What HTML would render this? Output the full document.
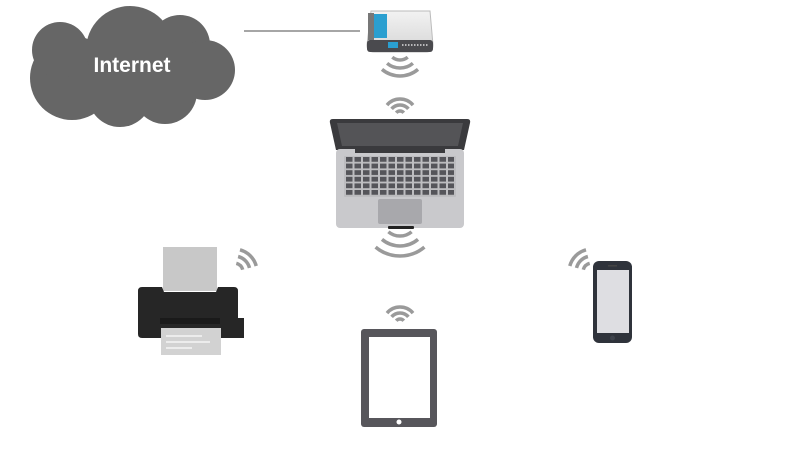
<!DOCTYPE html>
<html><head><meta charset="utf-8"><style>html,body{margin:0;padding:0;background:#fff;}svg{display:block}</style></head>
<body>
<svg width="800" height="450" viewBox="0 0 800 450" xmlns="http://www.w3.org/2000/svg">
<defs>
<pattern id="keys" x="346" y="157" width="8.5" height="6.6" patternUnits="userSpaceOnUse">
<rect x="0" y="0" width="6.5" height="4.8" fill="#55555a"/>
</pattern>
<linearGradient id="rg" x1="0" y1="0" x2="0" y2="1"><stop offset="0" stop-color="#f2f2f2"/><stop offset="1" stop-color="#d6d6d6"/></linearGradient>
</defs>
<g fill="#666666">
<circle cx="72" cy="78" r="42"/>
<circle cx="130" cy="50" r="44"/>
<circle cx="180" cy="45" r="30"/>
<circle cx="205" cy="70" r="30"/>
<circle cx="120" cy="95" r="32"/>
<circle cx="165" cy="92" r="32"/>
<circle cx="60" cy="50" r="28"/>
</g>
<text x="132" y="72" font-family="Liberation Sans, sans-serif" font-weight="bold" font-size="21" fill="#fff" text-anchor="middle">Internet</text>
<line x1="244" y1="31" x2="360" y2="31" stroke="#888" stroke-width="1.5"/>
<path d="M371 11 L430 11 L433 45 Q433 52 426 52 L374 52 Q367 52 367 45 Z" fill="url(#rg)" stroke="#bbb" stroke-width="1"/>
<rect x="367" y="40" width="66" height="12" rx="3" fill="#4a4a4e"/>
<rect x="374" y="14" width="13" height="24" fill="#2a9fd0"/>
<rect x="368" y="13" width="6" height="27" fill="#777"/>
<rect x="388" y="42" width="10" height="6" fill="#2a9fd0"/>
<line x1="402" y1="45" x2="428" y2="45" stroke="#ddd" stroke-width="1.5" stroke-dasharray="1.5 1.5"/>
<g fill="none" stroke="#9a9a9a" stroke-width="3.5">
<path d="M392.3 57.2 A12 12 0 0 0 407.7 57.2"/>
<path d="M387.1 63.3 A20 20 0 0 0 412.9 63.3"/>
<path d="M382 69.4 A28 28 0 0 0 418 69.4"/>
<path d="M396.2 112.8 A5 5 0 0 1 403.8 112.8"/>
<path d="M391.6 108.9 A11 11 0 0 1 408.4 108.9"/>
<path d="M387 105.1 A17 17 0 0 1 413 105.1"/>
<path d="M388.4 231.8 A18 18 0 0 0 411.6 231.8"/>
<path d="M382 239.4 A28 28 0 0 0 418 239.4"/>
<path d="M375.6 247.1 A38 38 0 0 0 424.4 247.1"/>
<path d="M396.2 320.8 A5 5 0 0 1 403.8 320.8"/>
<path d="M391.6 316.9 A11 11 0 0 1 408.4 316.9"/>
<path d="M387 313.1 A17 17 0 0 1 413 313.1"/>
<path d="M236.3 263.3 A9 9 0 0 1 242.7 269.7"/>
<path d="M238.1 256.5 A16 16 0 0 1 249.5 267.9"/>
<path d="M240 249.8 A23 23 0 0 1 256.2 266"/>
<path d="M589.7 263.3 A9 9 0 0 0 583.3 269.7"/>
<path d="M587.9 256.5 A16 16 0 0 0 576.5 267.9"/>
<path d="M586 249.8 A23 23 0 0 0 569.8 266"/>
</g>
<path d="M333 119 L467 119 Q471 119 470 123 L464 150 L336 150 L330 123 Q329 119 333 119 Z" fill="#3a3a3d"/>
<path d="M337 123 L463 123 L458 146 L342 146 Z" fill="#545457"/>
<rect x="336" y="149" width="128" height="79" rx="4" fill="#c9c9cc"/>
<rect x="355" y="149" width="90" height="4" fill="#3a3a3d"/>
<rect x="344" y="156" width="112" height="41" rx="1" fill="#bdbdc0"/>
<rect x="346" y="157" width="108" height="39" fill="url(#keys)"/>
<rect x="378" y="199" width="44" height="25" rx="2" fill="#a8a8ac"/>
<rect x="388" y="226" width="26" height="3" rx="1" fill="#222"/>
<rect x="163" y="247" width="54" height="44" fill="#c8c8c8"/>
<path d="M148 287 L162 287 L164 292 L216 292 L218 287 L234 287 Q238 287 238 291 L238 318 L244 318 L244 338 L142 338 Q138 338 138 334 L138 291 Q138 287 142 287 Z" fill="#262626"/>
<rect x="160" y="318" width="60" height="6" fill="#1a1a1a"/>
<rect x="161" y="328" width="60" height="27" fill="#d2d2d2"/>
<g stroke="#f4f4f4" stroke-width="1.5"><line x1="166" y1="336" x2="202" y2="336"/><line x1="166" y1="342" x2="210" y2="342"/><line x1="166" y1="348" x2="192" y2="348"/></g>
<rect x="361" y="329" width="76" height="98" rx="3" fill="#57565b"/>
<rect x="369" y="337" width="61" height="81" fill="#fff"/>
<circle cx="399" cy="422" r="2.5" fill="#fff"/>
<rect x="593" y="261" width="39" height="82" rx="6" fill="#2f333b"/>
<rect x="597" y="270" width="32" height="63" fill="#dedee2"/>
<circle cx="612.5" cy="338" r="2.5" fill="#3d424b"/>
<rect x="608" y="265" width="9" height="1.5" fill="#444"/>
</svg>
</body></html>
